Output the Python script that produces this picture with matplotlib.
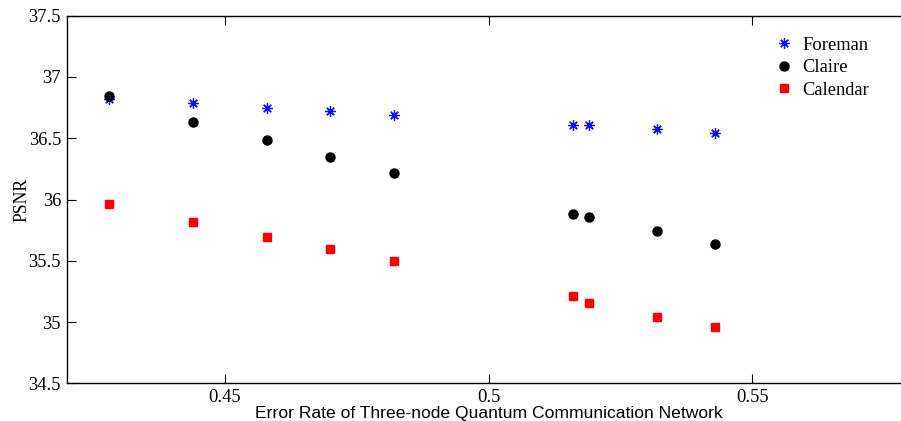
import matplotlib
matplotlib.use("Agg")
import matplotlib.pyplot as plt

error_rate = [0.428, 0.444, 0.458, 0.470, 0.482, 0.516, 0.519, 0.532, 0.543]
foreman = [36.82, 36.785, 36.75, 36.722, 36.69, 36.61, 36.605, 36.573, 36.54]
claire = [36.845, 36.632, 36.485, 36.349, 36.218, 35.884, 35.855, 35.74, 35.64]
calendar = [35.963, 35.816, 35.693, 35.596, 35.495, 35.212, 35.155, 35.038, 34.959]

xticks = [0.45, 0.5, 0.55]
yticks = [34.5, 35, 35.5, 36, 36.5, 37, 37.5]
ytick_labels = ["34.5", "35", "35.5", "36", "36.5", "37", "37.5"]

serif = "Liberation Serif"
sans = "Liberation Sans"

fig = plt.figure(figsize=(9.01, 4.21), dpi=100)
ax = fig.add_axes([0.074, 0.0895, 0.9364, 0.8732])
ax.patch.set_visible(False)

ax.plot(error_rate, foreman, linestyle="none", marker=(8, 2, 0), markersize=7.5,
        markeredgewidth=0.9, color="#1010ff", label="Foreman")
ax.plot(error_rate, claire, linestyle="none", marker="o", markersize=6.5,
        color="black", label="Claire")
ax.plot(error_rate, calendar, linestyle="none", marker="s", markersize=5.5,
        color="#ff0000", label="Calendar")

ax.set_xlim(0.42, 0.58)
ax.set_ylim(34.5, 37.5)
ax.set_xticks(xticks)
ax.set_xticklabels(["0.45", "0.5", "0.55"])
ax.set_yticks(yticks)
ax.set_yticklabels(ytick_labels)

ax.tick_params(direction="in", length=6.5, width=0.8, top=True, right=False,
               labelsize=13.3, pad=4)
for lab in ax.get_xticklabels() + ax.get_yticklabels():
    lab.set_fontfamily(serif)
for sp in ax.spines.values():
    sp.set_linewidth(1.0)
ax.spines["right"].set_visible(False)

ax.set_xlabel("Error Rate of Three-node Quantum Communication Network",
              fontfamily=sans, fontsize=12.6, labelpad=0)
ax.set_ylabel("PSNR", fontfamily=serif, fontsize=12.7, labelpad=-1)

leg = ax.legend(loc="upper left", bbox_to_anchor=(0.852, 0.935),
                bbox_transform=fig.transFigure, frameon=False,
                prop={"family": serif, "size": 13.3}, handlelength=0.8,
                handletextpad=0.6, labelspacing=0.3, borderpad=0, numpoints=1)

fig.savefig("out.png", dpi=100)
